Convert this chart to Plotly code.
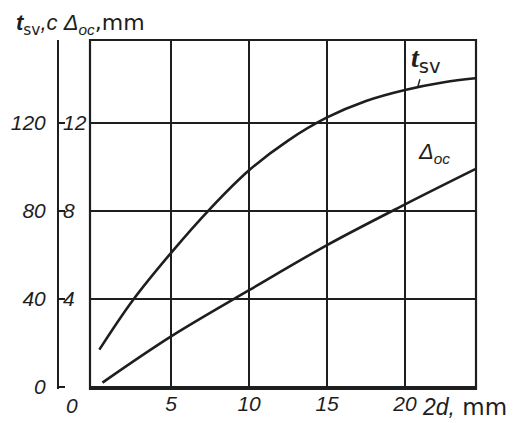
import plotly.graph_objects as go

# ---- data ----
TSV_X = [0.4, 2.5, 5, 7.5, 10, 12.5, 15, 17.5, 20, 22.5, 24.5]      # 2d, mm
TSV_Y = [17, 39, 61, 81, 98.5, 112, 122.5, 130, 135, 138.5, 140.3]   # t_sv, c
DOC_X = [0.6, 5, 10, 15, 20, 24.5]                                   # 2d, mm
DOC_Y = [0.2, 2.3, 4.4, 6.45, 8.3, 9.9]                              # Δ_oc, mm

X_TICKS = [5, 10, 15, 20]
T_TICKS = [0, 40, 80, 120]
D_TICKS = [4, 8, 12]

INK = "#1e1e1e"
NUM_FONT = dict(family="Liberation Sans", size=21, color=INK, style="italic")

fig = go.Figure()
fig.add_trace(go.Scatter(x=TSV_X, y=TSV_Y, mode="lines", yaxis="y",
                         line=dict(color=INK, width=2.6, shape="spline", smoothing=1.0),
                         showlegend=False, hoverinfo="skip"))
fig.add_trace(go.Scatter(x=DOC_X, y=DOC_Y, mode="lines", yaxis="y2",
                         line=dict(color=INK, width=2.6, shape="spline", smoothing=1.0),
                         showlegend=False, hoverinfo="skip"))

# the page body has an 8px margin, so the figure is made 8px smaller and shifted
OFF = 8
W, H = 514 - OFF, 423 - OFF
L, R, T, B = 50 - OFF, 38, 40 - OFF, 34
pw = W - L - R
def px(xpage):
    """page x pixel -> paper fraction"""
    return (xpage - OFF - L) / pw

fig.update_layout(
    width=W, height=H,
    margin=dict(l=L, r=R, t=T, b=B, autoexpand=False),
    paper_bgcolor="white", plot_bgcolor="white",
    xaxis=dict(domain=[px(90), 1], range=[-0.2, 24.55], automargin=False,
               tickvals=X_TICKS, ticktext=[str(v) for v in X_TICKS],
               ticks="", showline=False, zeroline=False,
               showgrid=True, gridcolor=INK, gridwidth=1.5,
               tickfont=NUM_FONT, fixedrange=True),
    yaxis=dict(anchor="free", position=px(58), side="left", automargin=False,
               range=[-0.9, 157.7],
               tickvals=T_TICKS, ticktext=[str(v) for v in T_TICKS],
               ticks="inside", ticklen=6, tickwidth=1.6, tickcolor=INK,
               showline=True, linecolor=INK, linewidth=2,
               showgrid=True, gridcolor=INK, gridwidth=1.5,
               zeroline=False, tickfont=NUM_FONT, ticklabelstandoff=7,
               fixedrange=True),
    yaxis2=dict(anchor="free", position=px(58), side="left", overlaying="y",
                automargin=False, range=[-0.09, 15.77],
                tickvals=D_TICKS, ticktext=[str(v) for v in D_TICKS],
                ticks="", ticklabelposition="inside", ticklabelstandoff=1,
                showline=False, showgrid=False, zeroline=False,
                tickfont=NUM_FONT, fixedrange=True),
)

# plot frame
fig.add_shape(type="rect", xref="x domain", yref="y domain", x0=0, x1=1, y0=0, y1=1,
              line=dict(color=INK, width=2.2))

# x tick "0" (offset left, as in the original)
fig.add_annotation(xref="x", yref="paper", x=0, y=0, yanchor="top", xanchor="center",
                   xshift=-21, yshift=-3, text="0", showarrow=False, font=NUM_FONT)
# x axis title
fig.add_annotation(xref="paper", yref="paper", x=px(420), y=0, xanchor="left", yanchor="top",
                   yshift=-3, showarrow=False,
                   text=("<i>2d,</i><span style='font-family:DejaVu Sans;font-style:normal;"
                         "font-size:23px'> mm</span>"),
                   font=dict(family="Liberation Sans", size=23, color=INK))
# y axes title
fig.add_annotation(xref="paper", yref="paper", x=px(14), y=1, xanchor="left", yanchor="bottom",
                   yshift=-1, showarrow=False,
                   text=("<b><i>t</i></b><sub><span style='font-family:DejaVu Sans;font-style:normal'>sv</span></sub>"
                         "<i>,c Δ</i><sub><i>oc</i></sub>"
                         "<span style='font-family:DejaVu Sans;font-style:normal'>,mm</span>"),
                   font=dict(family="Liberation Sans", size=22, color=INK, style="italic"))
# curve labels
fig.add_annotation(xref="x", yref="y", x=20.8, y=136, ax=8, ay=-28,
                   showarrow=True, arrowhead=0, arrowwidth=1.4, arrowcolor=INK,
                   text="<b><i>t</i></b><sub><span style='font-family:DejaVu Sans;font-style:normal'>sv</span></sub>",
                   font=dict(family="Liberation Serif", size=28, color=INK))
fig.add_annotation(xref="x", yref="y2", x=20.7, y=10.65, xanchor="left", yanchor="middle",
                   showarrow=False,
                   text="<i>Δ</i><sub><i>oc</i></sub>",
                   font=dict(family="Liberation Sans", size=22, color=INK))

fig.write_html("out.html")
